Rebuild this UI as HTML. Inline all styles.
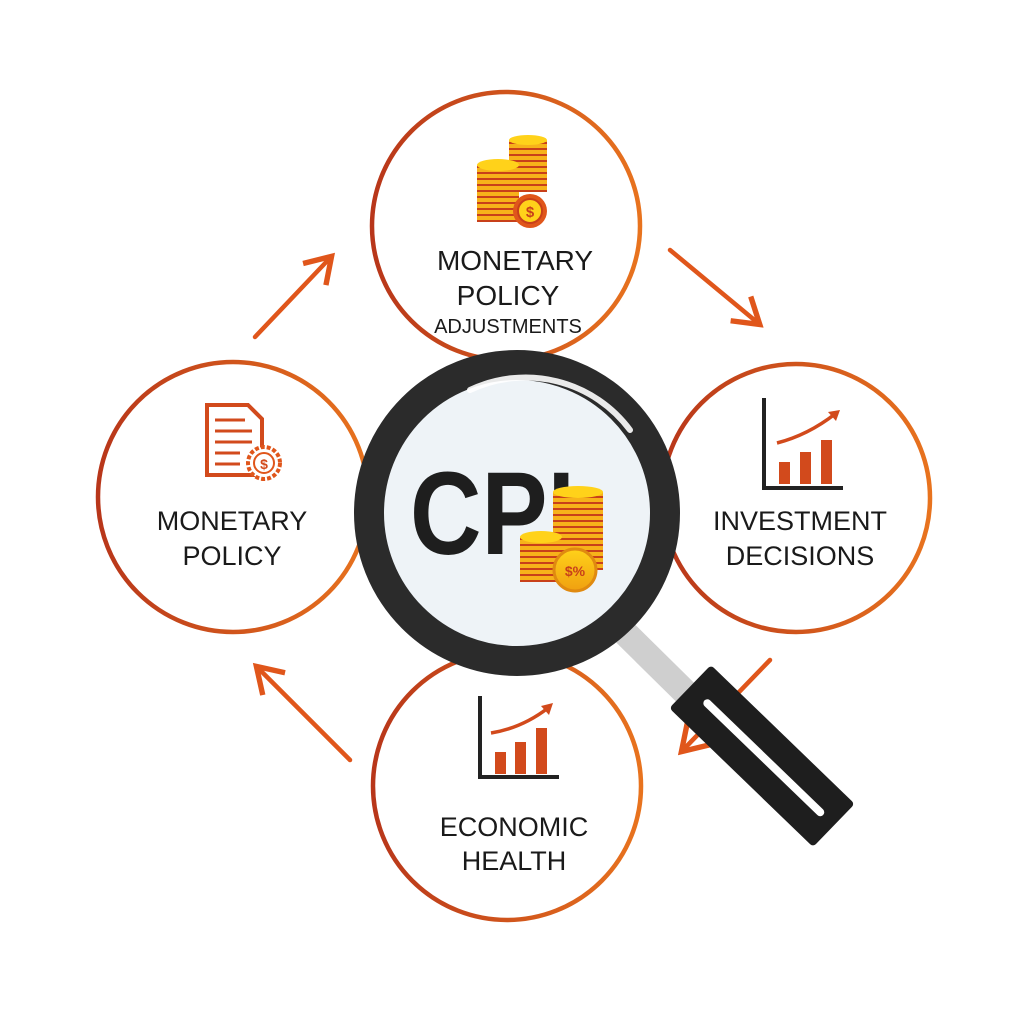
<!DOCTYPE html>
<html><head><meta charset="utf-8"><style>
html,body{margin:0;padding:0;background:#fff;width:1024px;height:1024px;overflow:hidden}
svg{display:block}
text{font-family:"Liberation Sans",sans-serif;fill:#1a1a1a}
</style></head><body>
<svg width="1024" height="1024" viewBox="0 0 1024 1024" xmlns="http://www.w3.org/2000/svg">
<defs>
<linearGradient id="rg" x1="0" y1="0" x2="1" y2="0">
<stop offset="0" stop-color="#b8361a"/><stop offset="1" stop-color="#e8731e"/>
</linearGradient>
<linearGradient id="coin" x1="0" y1="0" x2="0" y2="1">
<stop offset="0" stop-color="#ffd21a"/><stop offset="1" stop-color="#f0a010"/>
</linearGradient>
<pattern id="stripes" width="6" height="6" patternUnits="userSpaceOnUse">
<rect width="6" height="6" fill="#f7b21a"/><rect y="4" width="6" height="2" fill="#c8401a"/>
</pattern>
<marker id="ah" markerWidth="8" markerHeight="8" refX="6" refY="4" orient="auto" markerUnits="strokeWidth">
<path d="M1,0.5 L6.5,4 L1,7.5" fill="none" stroke="#e0561b" stroke-width="1.2" stroke-linejoin="miter"/>
</marker>
</defs>
<rect width="1024" height="1024" fill="#fff"/>

<!-- arrows -->
<g stroke="#e0561b" stroke-width="4.5" fill="none" stroke-linecap="round">
<line x1="255" y1="337" x2="330" y2="258" marker-end="url(#ah)"/>
<line x1="670" y1="250" x2="758" y2="323" marker-end="url(#ah)"/>
<line x1="770" y1="660" x2="683" y2="750" marker-end="url(#ah)"/>
<line x1="350" y1="760" x2="258" y2="668" marker-end="url(#ah)"/>
</g>

<!-- circles -->
<g fill="#fff" stroke="url(#rg)" stroke-width="4.5">
<circle cx="506" cy="226" r="134"/>
<circle cx="233" cy="497" r="135"/>
<circle cx="796" cy="498" r="134"/>
<circle cx="507" cy="786" r="134"/>
</g>

<!-- top icon: coins -->
<rect x="509" y="140" width="38" height="52" fill="url(#stripes)"/>
<ellipse cx="528" cy="140" rx="19" ry="5" fill="#ffd21a"/>
<rect x="477" y="165" width="42" height="57" fill="url(#stripes)"/>
<ellipse cx="498" cy="165" rx="21" ry="6" fill="#ffd21a"/>
<circle cx="530" cy="211" r="17" fill="#e0561b"/>
<circle cx="530" cy="211" r="12" fill="#ffd21a" stroke="#c8401a" stroke-width="2"/>
<text x="530" y="217" font-size="15" font-weight="bold" text-anchor="middle" style="fill:#c8401a">$</text>
<g text-anchor="middle">
<text x="515" y="270" font-size="28">MONETARY</text>
<text x="508" y="305" font-size="28">POLICY</text>
<text x="508" y="333" font-size="20">ADJUSTMENTS</text>
</g>

<!-- left icon: document -->
<path d="M207,405 L248,405 L262,419 L262,475 L207,475 Z" fill="#fff" stroke="#d24a1c" stroke-width="4"/>
<g stroke="#d24a1c" stroke-width="3"><line x1="215" y1="420" x2="245" y2="420"/><line x1="215" y1="431" x2="252" y2="431"/><line x1="215" y1="442" x2="252" y2="442"/><line x1="215" y1="453" x2="240" y2="453"/><line x1="215" y1="464" x2="240" y2="464"/></g>
<circle cx="264" cy="463" r="16" fill="#fff" stroke="#e0561b" stroke-width="4" stroke-dasharray="4 2"/>
<circle cx="264" cy="463" r="10" fill="#fff" stroke="#e0561b" stroke-width="2"/>
<text x="264" y="469" font-size="14" font-weight="bold" text-anchor="middle" style="fill:#d24a1c">$</text>
<g text-anchor="middle">
<text x="232" y="530" font-size="27">MONETARY</text>
<text x="232" y="565" font-size="27">POLICY</text>
</g>

<!-- right icon: chart -->
<path d="M764,398 L764,488 L843,488" fill="none" stroke="#222" stroke-width="4"/>
<g fill="#d24a1c"><rect x="779" y="462" width="11" height="22"/><rect x="800" y="452" width="11" height="32"/><rect x="821" y="440" width="11" height="44"/></g>
<path d="M777,443 Q808,435 835,414" fill="none" stroke="#d24a1c" stroke-width="3.5"/>
<path d="M828,412 L840,410 L836,421 Z" fill="#d24a1c"/>
<g text-anchor="middle">
<text x="800" y="530" font-size="27">INVESTMENT</text>
<text x="800" y="565" font-size="27">DECISIONS</text>
</g>

<!-- bottom icon: chart -->
<path d="M480,696 L480,777 L559,777" fill="none" stroke="#222" stroke-width="4"/>
<g fill="#d24a1c"><rect x="495" y="752" width="11" height="22"/><rect x="515" y="742" width="11" height="32"/><rect x="536" y="728" width="11" height="46"/></g>
<path d="M491,733 Q522,728 548,708" fill="none" stroke="#d24a1c" stroke-width="3.5"/>
<path d="M541,706 L553,703 L549,715 Z" fill="#d24a1c"/>
<g text-anchor="middle">
<text x="514" y="836" font-size="27">ECONOMIC</text>
<text x="514" y="870" font-size="27">HEALTH</text>
</g>

<!-- magnifier handle -->
<line x1="620" y1="628" x2="695" y2="702" stroke="#cfcfcf" stroke-width="26"/>
<g transform="translate(762,756) rotate(44)">
<rect x="-100" y="-30" width="200" height="60" rx="4" fill="#1e1e1e"/>
<rect x="-80" y="-4" width="165" height="8" rx="4" fill="#fff"/>
</g>

<!-- magnifier ring -->
<circle cx="517" cy="513" r="148" fill="#eef3f7" stroke="#2b2b2b" stroke-width="30"/>
<path d="M470,390 A130,130 0 0 1 630,430" fill="none" stroke="#fff" stroke-width="6" stroke-linecap="round" opacity="0.9"/>

<!-- CPI -->
<text x="410" y="554" font-size="118" font-weight="bold" textLength="165" lengthAdjust="spacingAndGlyphs" style="fill:#1e1e1e">CPI</text>
<rect x="553" y="492" width="50" height="78" fill="url(#stripes)"/>
<ellipse cx="578" cy="492" rx="25" ry="6" fill="#ffd21a"/>
<rect x="520" y="537" width="42" height="45" fill="url(#stripes)"/>
<ellipse cx="541" cy="537" rx="21" ry="6" fill="#ffd21a"/>
<circle cx="575" cy="570" r="21" fill="url(#coin)" stroke="#e08a10" stroke-width="3"/>
<text x="575" y="576" font-size="14" font-weight="bold" text-anchor="middle" style="fill:#c8401a">$%</text>
</svg>
</body></html>
